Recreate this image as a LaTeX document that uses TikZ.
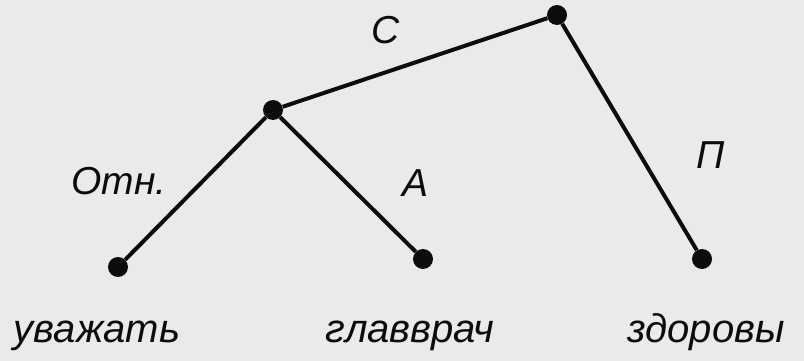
\documentclass[tikz,border=0pt]{standalone}
\usepackage{fontspec}
\setmainfont{Liberation Sans}
\definecolor{bg}{RGB}{234,234,234}
\definecolor{ink}{RGB}{12,12,12}
\begin{document}
\begin{tikzpicture}[x=1pt,y=-1pt,
  dot/.style={circle,fill=ink,inner sep=0pt,minimum size=20pt},
  edge/.style={draw=ink,line width=4pt},
  lbl/.style={font=\fontsize{39}{39}\selectfont\itshape,text=ink,inner sep=0pt},
  word/.style={font=\fontsize{40}{40}\selectfont\itshape,text=ink,inner sep=0pt,anchor=base}]
\fill[bg] (0,0) rectangle (804,361);
\useasboundingbox (0,0) rectangle (804,361);
\node[dot] (r) at (557,15) {};
\node[dot] (m) at (273,110) {};
\node[dot] (a) at (118,267) {};
\node[dot] (b) at (423,259) {};
\node[dot] (c) at (702,259) {};
\draw[edge] (r) -- (m);
\draw[edge] (r) -- (c);
\draw[edge] (m) -- (a);
\draw[edge] (m) -- (b);
\node[lbl] (lc) at (386,30) {С};
\node[lbl] (lo) at (119,181) {Отн.};
\node[lbl] (la) at (416,183) {А};
\node[lbl] (lp) at (711,155) {П};
\node[word] (w1) at (97,342) {уважать};
\node[word] (w2) at (410,342) {главврач};
\node[word] (w3) at (706,342) {здоровы};
\end{tikzpicture}
\end{document}
